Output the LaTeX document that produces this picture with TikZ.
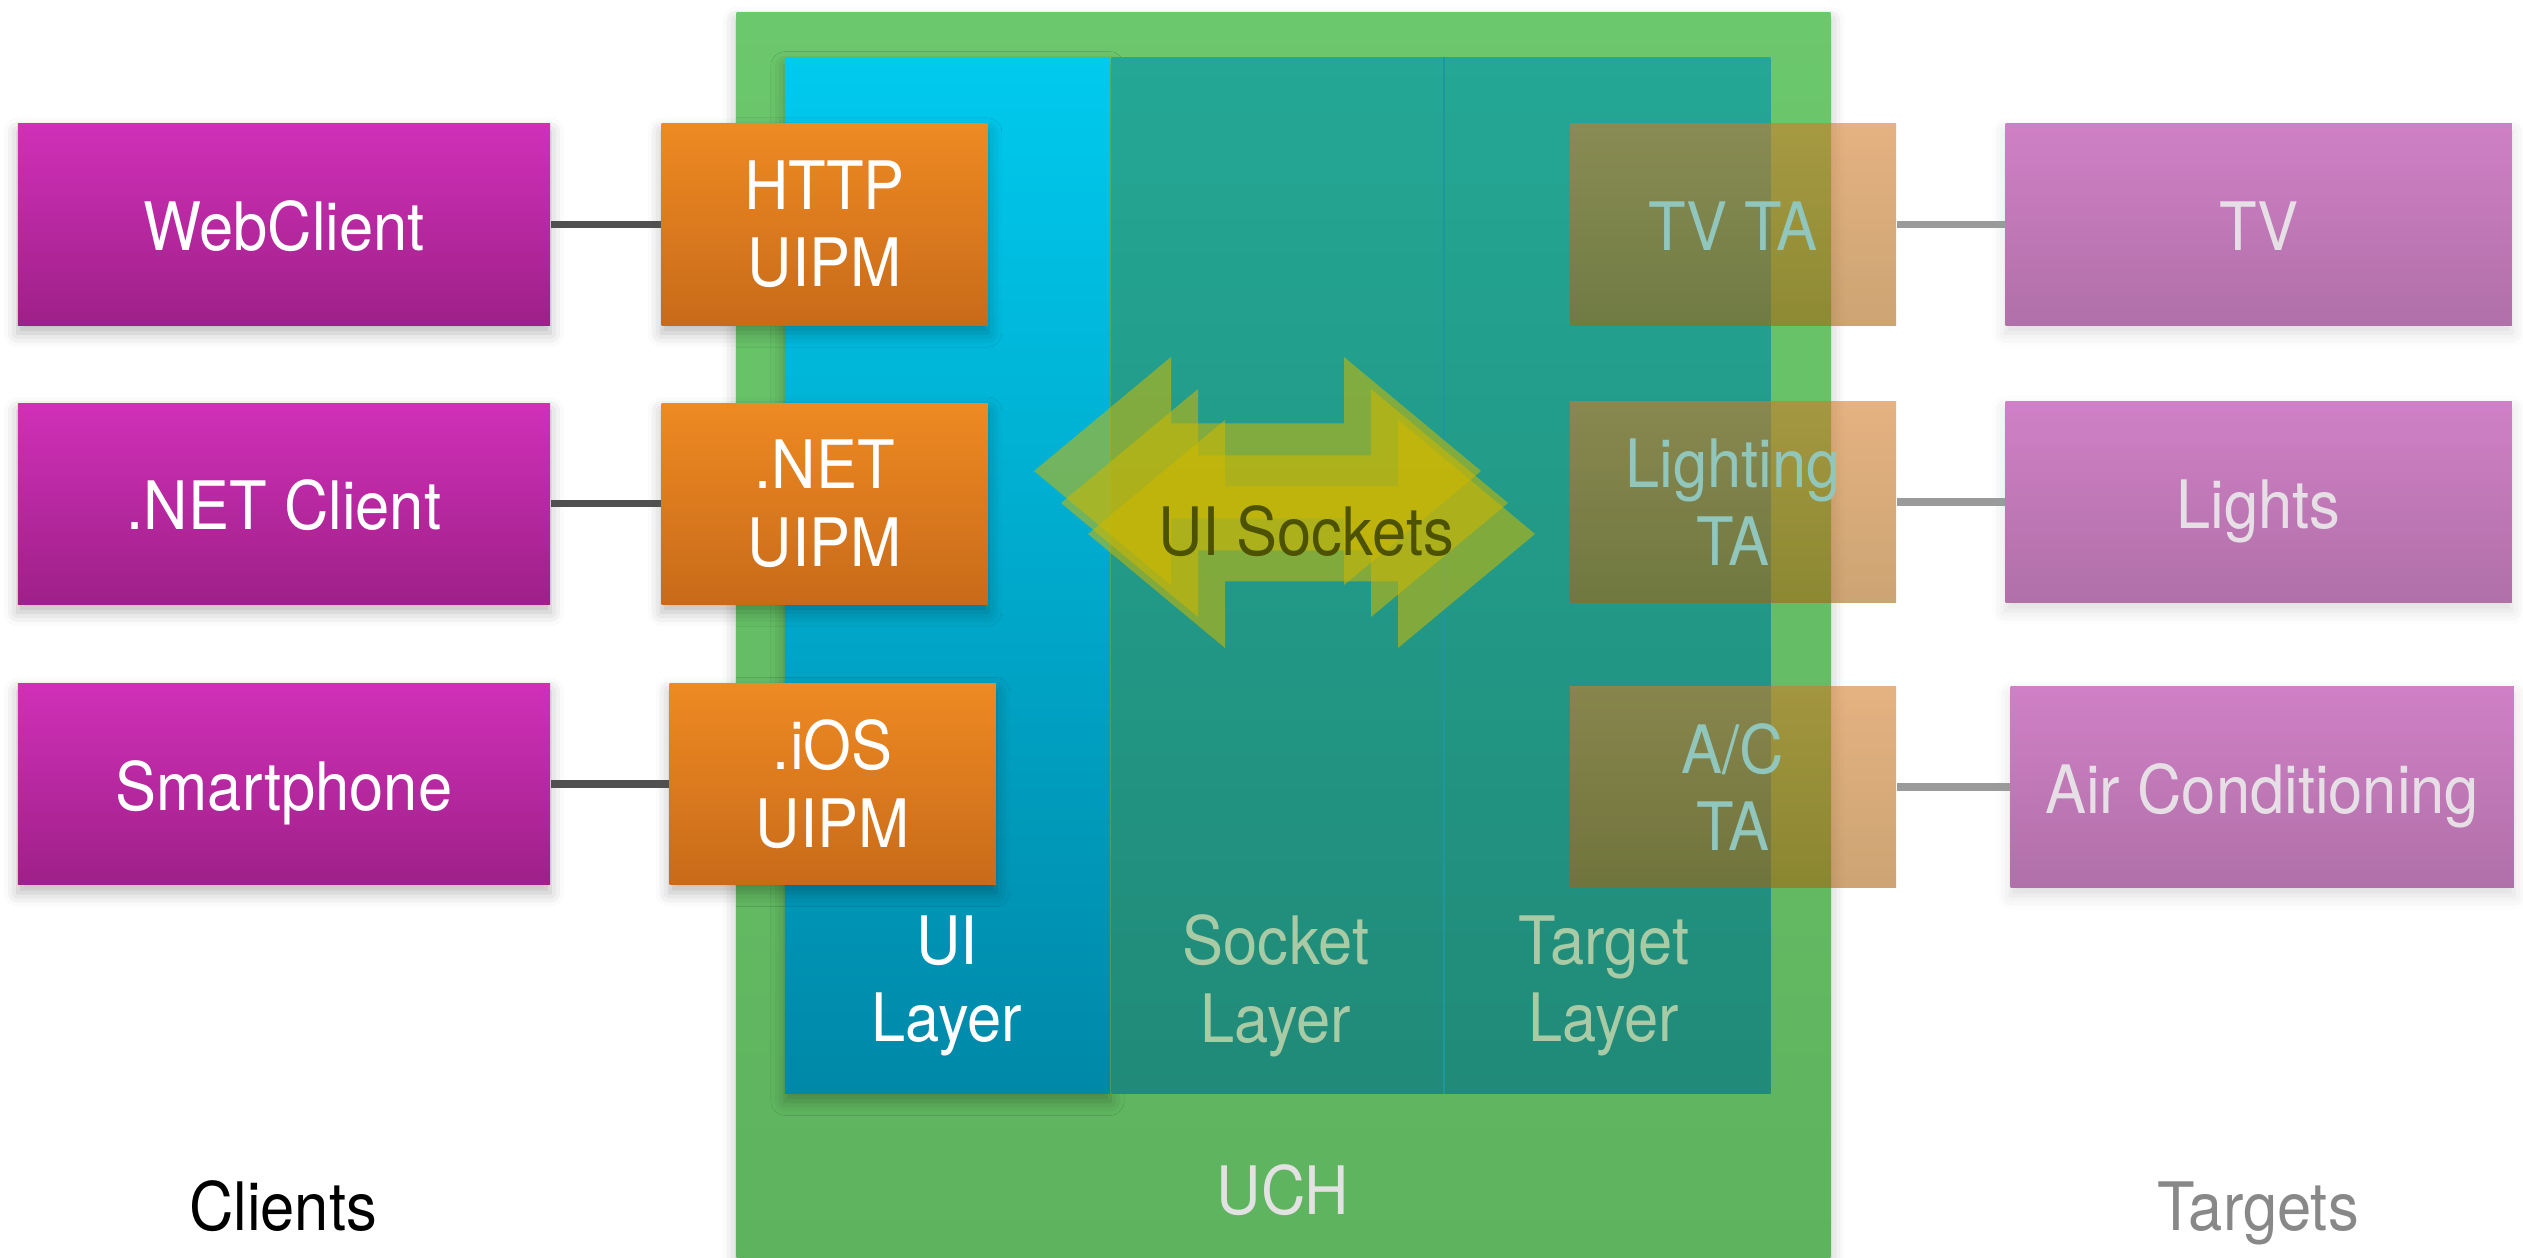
\documentclass[tikz,border=0pt]{standalone}
\usepackage{fontspec}
\setmainfont{TeX Gyre Heros}[FakeStretch=0.92]
\usetikzlibrary{positioning}
\usetikzlibrary{shadows.blur}

\definecolor{clienttop}{HTML}{D030B8}
\definecolor{clientbot}{HTML}{9E2088}
\definecolor{uipmtop}{HTML}{EE8A22}
\definecolor{uipmbot}{HTML}{C86A1A}
\definecolor{tatop}{HTML}{D27A26}
\definecolor{tabot}{HTML}{A8620E}
\definecolor{tatext}{HTML}{90C6BC}
\definecolor{tgttop}{HTML}{D080C6}
\definecolor{tgtbot}{HTML}{B070A8}
\definecolor{tgttext}{HTML}{E6E0E6}
\definecolor{uchtop}{HTML}{6CC86C}
\definecolor{uchbot}{HTML}{5EB35E}
\definecolor{uitop}{HTML}{00CAEE}
\definecolor{uibot}{HTML}{0088A8}
\definecolor{tealtop}{HTML}{24A795}
\definecolor{tealbot}{HTML}{218A78}
\definecolor{divider}{HTML}{1E96A0}
\definecolor{layertext}{HTML}{A8CBA5}
\definecolor{uchtext}{HTML}{E2E2E2}
\definecolor{socktext}{HTML}{4D5200}
\definecolor{sockfill}{HTML}{D0B800}
\definecolor{linkdark}{HTML}{505050}
\definecolor{linklight}{HTML}{9A9A9A}
\definecolor{targetsgrey}{HTML}{888888}

\tikzset{
  txt/.style={font=\fontsize{19}{22}\selectfont, align=center, inner sep=0pt},
  box/.style={txt, minimum height=2.01cm},
  oneline/.style={text height=15pt, text depth=0pt},
  soft/.style={blur shadow={shadow xshift=0pt, shadow yshift=-0.8mm, shadow blur radius=1.4mm, shadow opacity=28}},
  client/.style={box, oneline, minimum width=5.32cm, top color=clienttop, bottom color=clientbot, text=white, soft},
  uipm/.style={box, minimum width=3.26cm, top color=uipmtop, bottom color=uipmbot, text=white, soft},
  ta/.style={box, minimum width=3.26cm, top color=tatop, bottom color=tabot, fill opacity=0.58, text opacity=1, text=tatext},
  target/.style={box, oneline, minimum width=5.06cm, top color=tgttop, bottom color=tgtbot, text=tgttext,
    blur shadow={shadow xshift=0pt, shadow yshift=-0.8mm, shadow blur radius=1.4mm, shadow opacity=14}},
  layerbox/.style={minimum height=10.35cm, inner sep=0pt},
  link/.style={line width=2.2pt, draw=linkdark},
  faintlink/.style={line width=2.2pt, draw=linklight},
  sockarrow/.style={fill=sockfill, fill opacity=0.55}
}

\begin{document}
\begin{tikzpicture}[x=0.01cm, y=-0.01cm]
\useasboundingbox (0,0) rectangle (2523,1258);

\node[minimum width=10.93cm, minimum height=12.49cm, inner sep=0pt, top color=uchtop, bottom color=uchbot, soft] (uch) at (1283.5,637.5) {};
\node[layerbox, minimum width=3.25cm, top color=uitop, bottom color=uibot, soft] (uilayer) at (947.5,575.5) {};
\node[layerbox, minimum width=3.32cm, top color=tealtop, bottom color=tealbot, anchor=west] (socketlayer) at (uilayer.east) {};
\node[layerbox, minimum width=3.25cm, top color=tealtop, bottom color=tealbot, anchor=west] (targetlayer) at (socketlayer.east) {};
\draw[divider, line width=0.6pt] (socketlayer.north east) -- (socketlayer.south east);

\node[txt, text=white] (uitext) at (947,986) {UI\\Layer};
\node[txt, text=layertext] (sockettext) at (1276,986) {Socket\\Layer};
\node[txt, text=layertext] (targettext) at (1604,986) {Target\\Layer};
\node[txt, text=uchtext] (uchtext) at (1283,1190) {UCH};

\foreach \cx/\cy in {1257.5/471, 1284.5/503, 1311.5/534} {
  \fill[sockarrow, shift={(\cx,\cy)}] (-223.5,0) -- (-86.5,-114) -- (-86.5,-47.5) -- (86.5,-47.5) -- (86.5,-114)
    -- (223.5,0) -- (86.5,114) -- (86.5,47.5) -- (-86.5,47.5) -- (-86.5,114) -- cycle;
}
\node[txt, text=socktext] (sockets) at (1306,531) {UI Sockets};

\node[client] (webclient) at (284,224.5) {WebClient};
\node[client, below=0.765cm of webclient] (netclient) {.NET Client};
\node[client, below=0.78cm of netclient] (smartphone) {Smartphone};
\node[uipm, right=1.1cm of webclient] (httpuipm) {HTTP\\UIPM};
\node[uipm, right=1.1cm of netclient] (netuipm) {.NET\\UIPM};
\node[uipm, right=1.18cm of smartphone] (iosuipm) {.iOS\\UIPM};
\draw[link] (webclient) -- (httpuipm);
\draw[link] (netclient) -- (netuipm);
\draw[link] (smartphone) -- (iosuipm);

\node[ta, oneline] (tvta) at (1733,224.5) {TV TA};
\node[ta] (lightingta) at (1733,502) {Lighting\\TA};
\node[ta] (acta) at (1733,787) {A/C\\TA};
\node[target, right=1.08cm of tvta] (tv) {TV};
\node[target, right=1.08cm of lightingta] (lights) {Lights};
\node[target, minimum width=5.03cm, right=1.13cm of acta] (aircon) {Air Conditioning};
\draw[faintlink] (tvta) -- (tv);
\draw[faintlink] (lightingta) -- (lights);
\draw[faintlink] (acta) -- (aircon);

\node[txt, anchor=base] (clients) at (283,1230) {Clients};
\node[txt, anchor=base, text=targetsgrey] (targets) at (2258,1230) {Targets};
\end{tikzpicture}
\end{document}
